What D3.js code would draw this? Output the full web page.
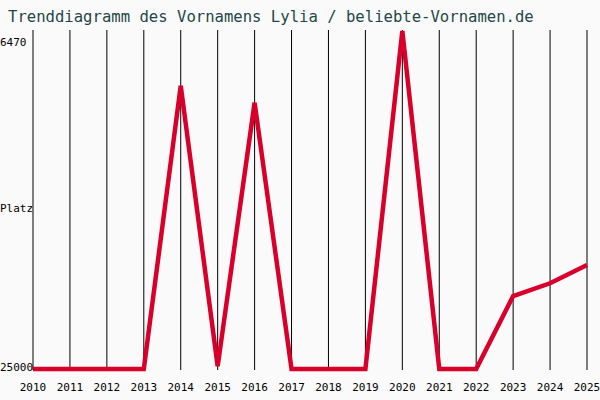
<!DOCTYPE html><html><head><meta charset="utf-8">
<script src="https://cdn.jsdelivr.net/npm/d3@7"></script>
<style>body{margin:0;background:#fafafa}</style></head><body>
<svg id="c" width="600" height="400"></svg>
<script>
const years=[2010,2011,2012,2013,2014,2015,2016,2017,2018,2019,2020,2021,2022,2023,2024,2025];
const ranks=[25000,25000,25000,25000,9470,24850,10400,25000,25000,25000,6470,25000,25000,21000,20300,19300];
const yTicks=[6470,25000];
const svg=d3.select("#c");
svg.append("rect").attr("width",600).attr("height",400).attr("fill","#fafafa");
const x=d3.scaleLinear().domain([2010,2025]).range([33,587]);
const y=d3.scaleLinear().domain([6470,25000]).range([31,369]);
const font="'DejaVu Sans Mono',monospace";
svg.append("text").attr("x",8).attr("y",22).attr("font-family",font).attr("font-size",15.6).attr("fill","#1e4848").text("Trenddiagramm des Vornamens Lylia / beliebte-Vornamen.de");
svg.selectAll("line.g").data(years).join("line").attr("x1",d=>x(d)).attr("x2",d=>x(d)).attr("y1",30).attr("y2",370).attr("stroke","#000").attr("stroke-width",1);
svg.selectAll("text.x").data(years).join("text").attr("x",d=>x(d)).attr("y",391).attr("text-anchor","middle").attr("font-family",font).attr("font-size",11).text(d=>d);
svg.append("text").attr("x",0).attr("y",46).attr("font-family",font).attr("font-size",11).text(yTicks[0]);
svg.append("text").attr("x",0).attr("y",371).attr("font-family",font).attr("font-size",11).text(yTicks[1]);
svg.append("text").attr("x",0).attr("y",212).attr("font-family",font).attr("font-size",11).text("Platz");
svg.append("path").datum(years.map((d,i)=>[d,ranks[i]])).attr("fill","none").attr("stroke","#d8002a").attr("stroke-width",4.5)
 .attr("d",d3.line().x(d=>x(d[0])).y(d=>y(d[1])));
</script></body></html>
